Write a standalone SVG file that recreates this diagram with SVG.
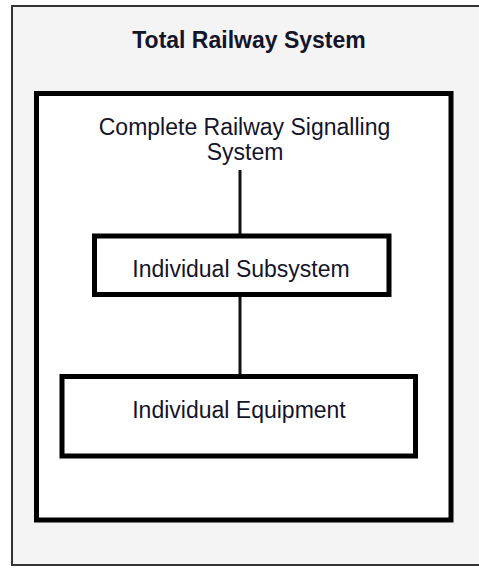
<svg xmlns="http://www.w3.org/2000/svg" width="479" height="568" viewBox="0 0 479 568">
<style>
text{font-family:"Liberation Sans",Arial,sans-serif;font-size:23px;fill:#14142a;text-anchor:middle}
.title{font-weight:bold}
.box{fill:#fff;stroke:#000;stroke-width:5}
.conn{stroke:#111;stroke-width:3;fill:none}
</style>
<rect width="479" height="568" fill="#fff"/>
<g id="total">
<rect x="12" y="6" width="480" height="559" fill="#f4f4f4" stroke="#333" stroke-width="2"/>
<text class="title" x="249" y="48">Total Railway System</text>
</g>
<g id="signalling">
<rect class="box" x="36.5" y="93.5" width="414.5" height="426.5"/>
<text x="244.5" y="135">Complete Railway Signalling</text>
<text x="245" y="160">System</text>
</g>
<g id="connectors">
<line class="conn" x1="240" y1="170" x2="240" y2="234"/>
<line class="conn" x1="240" y1="296" x2="240" y2="375"/>
</g>
<g id="subsystem">
<rect class="box" x="94.5" y="236" width="294.5" height="58.5"/>
<text x="241" y="277">Individual Subsystem</text>
</g>
<g id="equipment">
<rect class="box" x="62" y="376.5" width="353.5" height="79.5"/>
<text x="239" y="418">Individual Equipment</text>
</g>
</svg>
